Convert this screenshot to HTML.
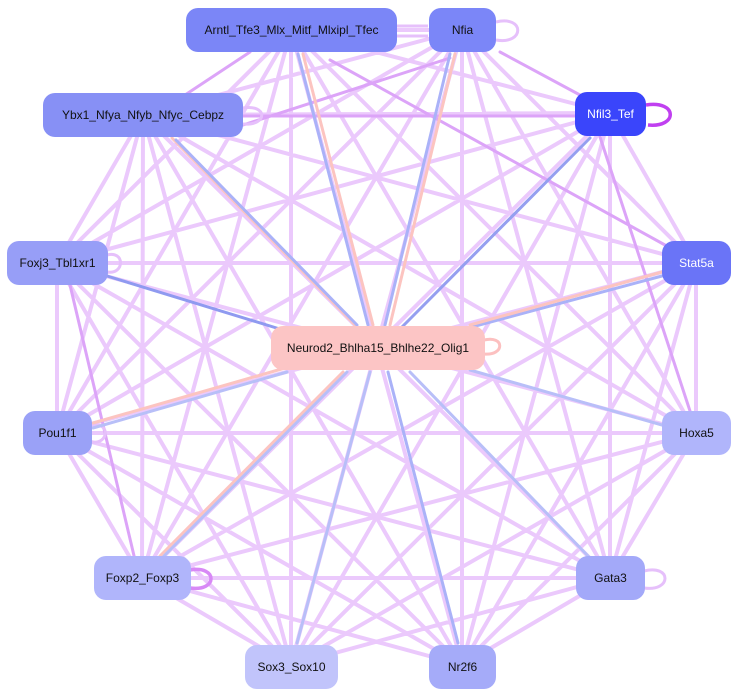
<!DOCTYPE html>
<html><head><meta charset="utf-8"><style>
html,body{margin:0;padding:0;background:#fff;}
body{width:738px;height:698px;position:relative;overflow:hidden;font-family:"Liberation Sans",sans-serif;}
.n{position:absolute;border-radius:12px;display:flex;align-items:center;justify-content:center;font-size:12px;color:#111;box-sizing:border-box;}
svg{position:absolute;left:0;top:0;}
</style></head><body>
<svg width="738" height="698" viewBox="0 0 738 698">
<path fill="none" stroke="#ebc9fc" stroke-width="4" stroke-linecap="round" d="
M291,30L462,30 M291,30L610,113 M291,30L57,263 M291,30L57,433 M291,30L696,433 M291,30L142,578 M291,30L610,578 M291,30L291,665 M291,30L462,665
M462,30L143,115 M462,30L57,263 M462,30L696,263 M462,30L57,433 M462,30L696,433 M462,30L142,578 M462,30L610,578 M462,30L291,665 M462,30L462,665
M610,113L143,115 M610,113L57,263 M610,113L696,263 M610,113L57,433 M610,113L142,578 M610,113L610,578 M610,113L291,665 M610,113L462,665
M143,115L57,263 M143,115L696,263 M143,115L57,433 M143,115L696,433 M143,115L142,578 M143,115L610,578 M143,115L291,665 M143,115L462,665
M57,263L696,263 M57,263L57,433 M57,263L696,433 M57,263L610,578 M57,263L291,665 M57,263L462,665
M696,263L57,433 M696,263L696,433 M696,263L142,578 M696,263L610,578 M696,263L291,665 M696,263L462,665
M57,433L696,433 M57,433L142,578 M57,433L610,578 M57,433L291,665 M57,433L462,665
M696,433L142,578 M696,433L610,578 M696,433L291,665 M696,433L462,665
M142,578L610,578 M142,578L291,665 M142,578L462,665
M610,578L291,665 M610,578L462,665
"/>
<path fill="none" stroke="#dca4f8" stroke-width="3" stroke-linecap="round" d="
M250,52L185,95 M500,52L580,95 M330,60L665,245 M243,125L450,58 M70,285L135,560 M600,137L690,411 M243,116L575,116"/>
<path fill="none" stroke="#e6c0fb" stroke-width="3" d="M496,22 C525,15 525,45 496,40 M243,108 C268,104 268,126 243,124 M107,255 C125,250 125,275 107,272 M91,426 C110,420 110,445 91,442 M644,571 C672,564 672,592 644,588"/>
<path fill="none" stroke="#c040f0" stroke-width="3.5" d="M646,105 C678,100 678,128 648,125"/>
<path fill="none" stroke="#d889f6" stroke-width="3.5" d="M190,570 C218,565 218,592 190,588"/>
<path fill="none" stroke="#fcc0c0" stroke-width="3" d="M484,340 C505,335 505,356 484,354"/>
<path fill="none" stroke="#e6c0fb" stroke-width="3" d="M396,26 L428,26 M396,36 L428,36"/>
<g stroke-width="3" fill="none" stroke-linecap="round">
<line x1="107" y1="276" x2="283" y2="330" stroke="#8f9af0"/>
<line x1="590" y1="138" x2="402" y2="327" stroke="#959ff0"/>
<line x1="662" y1="276" x2="468" y2="328" stroke="#aab2f8"/>
<line x1="662" y1="272" x2="470" y2="325" stroke="#fcc4c0"/>
<line x1="662" y1="425" x2="470" y2="370" stroke="#b8bff8"/>
<line x1="590" y1="558" x2="410" y2="372" stroke="#b8bff8"/>
<line x1="458" y1="643" x2="388" y2="372" stroke="#aab2f8"/>
<line x1="297" y1="643" x2="370" y2="372" stroke="#b8bff8"/>
<line x1="160" y1="556" x2="343" y2="372" stroke="#fcc4c0"/>
<line x1="164" y1="556" x2="347" y2="372" stroke="#b8bff8"/>
<line x1="93" y1="423" x2="285" y2="368" stroke="#fcc4c0"/>
<line x1="93" y1="428" x2="287" y2="372" stroke="#b8bff8"/>
<line x1="172" y1="138" x2="355" y2="325" stroke="#fcc4c0"/>
<line x1="176" y1="140" x2="357" y2="325" stroke="#aab2f8"/>
<line x1="298" y1="54" x2="368" y2="325" stroke="#aab2f8"/>
<line x1="303" y1="54" x2="373" y2="325" stroke="#fcc4c0"/>
<line x1="455" y1="54" x2="390" y2="325" stroke="#fcc4c0"/>
<line x1="450" y1="54" x2="385" y2="325" stroke="#aab2f8"/>
</g>
</svg>
<div class="n" style="left:186px;top:8px;width:211px;height:44px;background:#7b86f7;">Arntl_Tfe3_Mlx_Mitf_Mlxipl_Tfec</div>
<div class="n" style="left:429px;top:8px;width:67px;height:44px;background:#7b86f8;">Nfia</div>
<div class="n" style="left:575px;top:92px;width:71px;height:44px;background:#3a45fb;color:#fff;">Nfil3_Tef</div>
<div class="n" style="left:43px;top:93px;width:200px;height:44px;background:#8790f5;">Ybx1_Nfya_Nfyb_Nfyc_Cebpz</div>
<div class="n" style="left:7px;top:241px;width:101px;height:44px;background:#979ef7;">Foxj3_Tbl1xr1</div>
<div class="n" style="left:662px;top:241px;width:69px;height:44px;background:#6a74f7;color:#fff;">Stat5a</div>
<div class="n" style="left:271px;top:326px;width:214px;height:44px;background:#fcc5c5;">Neurod2_Bhlha15_Bhlhe22_Olig1</div>
<div class="n" style="left:23px;top:411px;width:69px;height:44px;background:#9aa1f7;">Pou1f1</div>
<div class="n" style="left:662px;top:411px;width:69px;height:44px;background:#b0b5fb;">Hoxa5</div>
<div class="n" style="left:94px;top:556px;width:97px;height:44px;background:#b0b5fb;">Foxp2_Foxp3</div>
<div class="n" style="left:576px;top:556px;width:69px;height:44px;background:#a3a9f9;">Gata3</div>
<div class="n" style="left:245px;top:645px;width:93px;height:44px;background:#c1c4fb;">Sox3_Sox10</div>
<div class="n" style="left:429px;top:645px;width:67px;height:44px;background:#a5abf9;">Nr2f6</div>
</body></html>
